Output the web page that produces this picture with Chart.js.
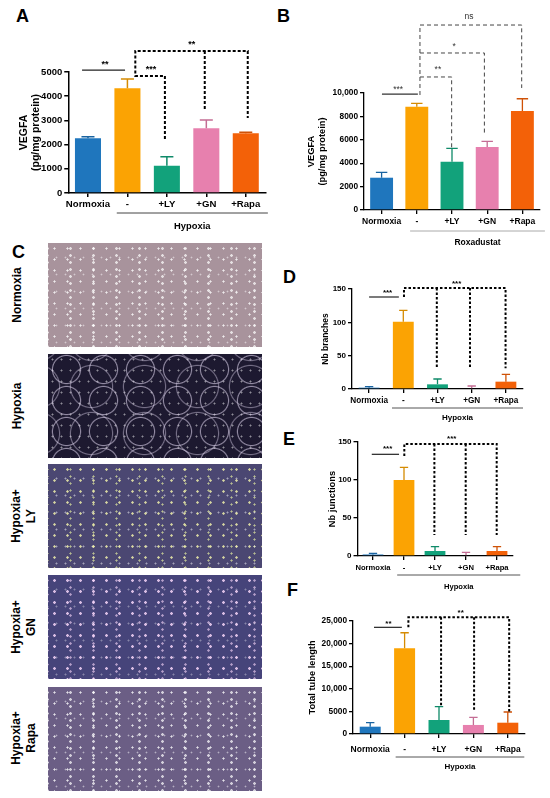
<!DOCTYPE html>
<html>
<head>
<meta charset="utf-8">
<script src="https://cdn.jsdelivr.net/npm/chart.js@4.4.1/dist/chart.umd.min.js"></script>
<style>
  body { margin: 0; background: #fff; font-family: "Liberation Sans", Arial, sans-serif; }
  #fig { position: relative; width: 550px; height: 798px; overflow: hidden; }
  .letter { position: absolute; font-weight: bold; font-size: 18px; line-height: 1; }
  canvas { position: absolute; }
  .photo { position: absolute; left: 48px; width: 214px; height: 104px;
    background-image:
      radial-gradient(circle, rgba(255,255,255,.8) 0 0.8px, transparent 1.4px),
      radial-gradient(circle, rgba(255,255,255,.5) 0 0.6px, transparent 1.2px),
      radial-gradient(circle, rgba(255,255,255,.7) 0 1px, transparent 1.6px);
    background-size: 13px 11px, 9px 17px, 23px 7px;
    background-position: 0 0, 4px 6px, 11px 2px; }
  .rowlab { position: absolute; width: 110px; height: 34px; font-weight: bold; font-size: 12px;
    line-height: 15px; text-align: center; transform: rotate(-90deg);
    display: flex; align-items: center; justify-content: center; }
</style>
</head>
<body>
<div id="fig">
  <div class="letter" style="left:16px;top:7px">A</div>
  <div class="letter" style="left:277px;top:7px">B</div>
  <div class="letter" style="left:12px;top:243px">C</div>
  <div class="letter" style="left:283px;top:268px">D</div>
  <div class="letter" style="left:283px;top:430px">E</div>
  <div class="letter" style="left:287px;top:581px">F</div>

  <div class="photo" style="top:243px;background-color:#a8939c"></div>
  <div class="photo" style="top:354px;background-color:#1d1930;
    background-image: radial-gradient(circle, transparent 0 13px, rgba(225,215,240,.6) 14px, transparent 15.2px),
      radial-gradient(circle, transparent 0 20px, rgba(225,215,240,.45) 21px, transparent 22.2px),
      radial-gradient(circle, rgba(255,255,255,.5) 0 0.7px, transparent 1.3px);
    background-size: 37px 31px, 53px 47px, 9px 11px;
    background-position: 0 0, 17px 9px, 0 0;"></div>
  <div class="photo" style="top:464px;background-color:#4b4772;
    background-image: radial-gradient(circle, rgba(240,240,170,.85) 0 0.9px, transparent 1.5px),
      radial-gradient(circle, rgba(255,255,255,.5) 0 0.7px, transparent 1.3px),
      radial-gradient(circle, rgba(230,240,160,.7) 0 0.8px, transparent 1.4px);"></div>
  <div class="photo" style="top:575px;background-color:#46447a;
    background-image: radial-gradient(circle, rgba(255,220,255,.8) 0 1px, transparent 1.6px),
      radial-gradient(circle, rgba(255,255,255,.35) 0 0.7px, transparent 1.3px),
      radial-gradient(circle, rgba(255,220,255,.6) 0 0.9px, transparent 1.5px);"></div>
  <div class="photo" style="top:687px;background-color:#6b5e85"></div>

  <div class="rowlab" style="left:-38px;top:278px">Normoxia</div>
  <div class="rowlab" style="left:-38px;top:389px">Hypoxia</div>
  <div class="rowlab" style="left:-31px;top:499px">Hypoxia+<br>LY</div>
  <div class="rowlab" style="left:-31px;top:610px">Hypoxia+<br>GN</div>
  <div class="rowlab" style="left:-31px;top:721px">Hypoxia+<br>Rapa</div>
</div>

<script>
// ---- data ----
const categories = ["Normoxia", "-", "+LY", "+GN", "+Rapa"];
const barColors = ["#1f76bd", "#fba303", "#12a27b", "#e780ae", "#f36108"];

// A: VEGFA, hypoxia
const vegfaHypoxia = [2260, 4330, 1130, 2680, 2470];
const vegfaHypoxiaSem = [65, 385, 370, 340, 40];
const vegfaHypoxiaTicks = [0, 1000, 2000, 3000, 4000, 5000];

// B: VEGFA, roxadustat
const vegfaRoxa = [2760, 8830, 4130, 5380, 8460];
const vegfaRoxaSem = [460, 290, 1140, 490, 1050];
const vegfaRoxaTicks = [0, 2000, 4000, 6000, 8000, 10000];

// D, E, F: tube formation
const branches = [2, 101, 7, 1, 11];
const branchesSem = [1.5, 17, 8, 3.5, 11];
const junctions = [2, 100, 6.6, 1, 6.6];
const junctionsSem = [1.5, 16.7, 5.7, 3.8, 5.7];
const countTicks = [0, 50, 100, 150];
const tubeLength = [1620, 18950, 3100, 2000, 2500];
const tubeLengthSem = [880, 3450, 2940, 1690, 2370];
const tubeTicks = [0, 5000, 10000, 15000, 20000, 25000];

Chart.defaults.font.family = '"Liberation Sans", Arial, sans-serif';

const fmt = (v) => (v >= 10000 ? v.toLocaleString("en-US") : String(v));

function darker(hex, f) {
    const n = parseInt(hex.slice(1), 16);
    const r = Math.round(((n >> 16) & 255) * f);
    const g = Math.round(((n >> 8) & 255) * f);
    const b = Math.round((n & 255) * f);
    return `rgb(${r},${g},${b})`;
}

// upper error bars, Prism style
const errorBars = {
    id: "errorBars",
    afterDatasetsDraw(chart, args, opts) {
        const { ctx } = chart;
        const y = chart.scales.y;
        const ds = chart.data.datasets[0];
        chart.getDatasetMeta(0).data.forEach((bar, i) => {
            const top = y.getPixelForValue(ds.data[i] + opts.sem[i]);
            const half = bar.width * opts.cap / 2;
            ctx.save();
            ctx.strokeStyle = darker(barColors[i], 0.85);
            ctx.lineWidth = opts.width;
            ctx.beginPath();
            ctx.moveTo(bar.x, bar.y);
            ctx.lineTo(bar.x, top);
            ctx.moveTo(bar.x - half, top);
            ctx.lineTo(bar.x + half, top);
            ctx.stroke();
            ctx.restore();
        });
    },
};

// significance brackets, stars and the group line under the axis
const sigMarks = {
    id: "sigMarks",
    afterDraw(chart, args, opts) {
        const { ctx } = chart;
        const x = chart.scales.x;
        const y = chart.scales.y;
        const px = (p) => [x.getPixelForValue(p[0]), y.getPixelForValue(p[1])];
        ctx.save();
        opts.lines.forEach((ln) => {
            ctx.strokeStyle = ln.color;
            ctx.lineWidth = ln.width;
            ctx.setLineDash(ln.dash || []);
            ctx.beginPath();
            ln.pts.forEach((p, k) => {
                const [a, b] = px(p);
                k ? ctx.lineTo(a, b) : ctx.moveTo(a, b);
            });
            ctx.stroke();
        });
        ctx.setLineDash([]);
        ctx.textAlign = "center";
        ctx.textBaseline = "middle";
        opts.stars.forEach((s) => {
            const [a, b] = px(s.at);
            ctx.font = `${opts.starWeight} ${opts.starSize}px "Liberation Sans", Arial`;
            ctx.fillStyle = opts.starColor;
            const shift = s.text.includes("*") ? opts.starSize * 0.25 : 0;
            ctx.fillText(s.text, a, b + shift);
        });
        // group line + label
        const g = opts.group;
        const base = y.getPixelForValue(0);
        const x1 = x.getPixelForValue(g.from);
        const x2 = x.getPixelForValue(g.to);
        ctx.strokeStyle = g.color;
        ctx.lineWidth = 1;
        ctx.beginPath();
        ctx.moveTo(x1, base + g.lineOffset);
        ctx.lineTo(x2, base + g.lineOffset);
        ctx.stroke();
        ctx.fillStyle = "#000";
        ctx.font = `bold ${g.size}px "Liberation Sans", Arial`;
        ctx.fillText(g.text, (x1 + x2) / 2, base + g.textOffset);
        ctx.restore();
    },
};

const fig = document.getElementById("fig");

function build(p) {
    const [bx, by, bw, bh] = p.box;
    const canvas = document.createElement("canvas");
    canvas.width = bw;
    canvas.height = bh;
    canvas.style.left = bx + "px";
    canvas.style.top = by + "px";
    canvas.style.width = bw + "px";
    canvas.style.height = bh + "px";
    fig.appendChild(canvas);

    const lh = p.titleSize * 1.2;
    const padLeft = p.titleX - bx - lh / 2;
    const axisColor = "#000";

    new Chart(canvas, {
        type: "bar",
        data: {
            labels: categories,
            datasets: [{
                data: p.values,
                backgroundColor: barColors,
                barPercentage: p.barPct,
                categoryPercentage: 1,
                borderWidth: 0,
            }],
        },
        options: {
            responsive: false,
            animation: false,
            layout: { padding: { left: padLeft, top: p.plot.top - by, right: bx + bw - p.plot.right, bottom: 0 } },
            plugins: {
                legend: { display: false },
                tooltip: { enabled: false },
                errorBars: { sem: p.sem, cap: p.cap, width: p.errWidth },
                sigMarks: p.marks,
            },
            scales: {
                x: {
                    grid: { offset: false, drawOnChartArea: false, tickLength: 4, color: axisColor, lineWidth: p.axisWidth },
                    border: { color: axisColor, width: p.axisWidth },
                    ticks: { color: "#000", font: { size: p.xFont, weight: "bold" }, padding: p.xPad, maxRotation: 0, autoSkip: false },
                    afterFit: (s) => { s.height = by + bh - p.plot.bottom; },
                },
                y: {
                    min: 0,
                    max: p.ticks[p.ticks.length - 1],
                    afterBuildTicks: (s) => { s.ticks = p.ticks.map((v) => ({ value: v })); },
                    grid: { drawOnChartArea: false, tickLength: 4, color: axisColor, lineWidth: p.axisWidth },
                    border: { color: axisColor, width: p.axisWidth },
                    ticks: { color: "#000", font: { size: p.yFont, weight: "bold" }, padding: 2, callback: (v) => fmt(v) },
                    title: { display: true, text: p.title, color: "#000", padding: 0,
                        font: { size: p.titleSize, weight: "bold", lineHeight: 1.2 } },
                    afterFit: (s) => { s.width = p.plot.left - bx - padLeft; },
                },
            },
        },
        plugins: [errorBars, sigMarks],
    });
}

const dotted = { color: "#000", width: 2, dash: [2.5, 2] };
const thin = { color: "#222", width: 1.2 };

build({
    box: [0, 0, 275, 240],
    plot: { left: 68.25, right: 265.5, top: 72, bottom: 193 },
    values: vegfaHypoxia, sem: vegfaHypoxiaSem, ticks: vegfaHypoxiaTicks,
    title: ["VEGFA", "(pg/mg protein)"], titleSize: 10.5, titleX: 24,
    barPct: 0.66, cap: 0.5, errWidth: 1.5, axisWidth: 1.5,
    xFont: 9.6, yFont: 9.5, xPad: 2,
    marks: {
        starSize: 9, starWeight: "bold", starColor: "#000",
        lines: [
            { ...thin, pts: [[-0.15, 5080], [0.94, 5080]] },
            { ...dotted, dash: [3, 2], pts: [[1.95, 2230], [1.95, 4835], [1.2, 4835], [1.2, 5868], [4.05, 5868], [4.05, 3100]] },
            { ...dotted, dash: [3, 2], pts: [[2.96, 5868], [2.96, 3430]] },
        ],
        stars: [
            { at: [0.43, 5414], text: "**" },
            { at: [1.6, 5207], text: "***" },
            { at: [2.63, 6240], text: "**" },
        ],
        group: { text: "Hypoxia", from: 0.73, to: 4.56, lineOffset: 20, textOffset: 33, size: 9.4, color: "#444" },
    },
});

build({
    box: [275, 0, 275, 250],
    plot: { left: 364, right: 540, top: 93, bottom: 210 },
    values: vegfaRoxa, sem: vegfaRoxaSem, ticks: vegfaRoxaTicks,
    title: ["VEGFA", "(pg/mg protein)"], titleSize: 9.3, titleX: 311,
    barPct: 0.65, cap: 0.5, errWidth: 1.3, axisWidth: 1.3,
    xFont: 8.5, yFont: 8.3, xPad: 3,
    marks: {
        starSize: 8.5, starWeight: "normal", starColor: "#333",
        lines: [
            { color: "#333", width: 1.2, pts: [[0.01, 9900], [1.03, 9900]] },
            { color: "#444", width: 1, dash: [4, 3], pts: [[1.09, 9830], [1.09, 15810], [3.98, 15810], [3.98, 10430]] },
            { color: "#444", width: 1, dash: [4, 3], pts: [[1.09, 13420], [2.92, 13420], [2.92, 6580]] },
            { color: "#444", width: 1, dash: [4, 3], pts: [[1.09, 11370], [1.99, 11370], [1.99, 5300]] },
        ],
        stars: [
            { at: [0.47, 10430], text: "***" },
            { at: [1.6, 12140], text: "**" },
            { at: [2.06, 14100], text: "*" },
            { at: [2.48, 16520], text: "ns" },
        ],
        group: { text: "Roxadustat", from: 0.81, to: 4.64, lineOffset: 21, textOffset: 33, size: 8.5, color: "#aaa" },
    },
});

build({
    box: [275, 262, 275, 168],
    plot: { left: 352, right: 523, top: 289, bottom: 389 },
    values: branches, sem: branchesSem, ticks: countTicks,
    title: "Nb branches", titleSize: 8.5, titleX: 326,
    barPct: 0.61, cap: 0.4, errWidth: 1.3, axisWidth: 1.3,
    xFont: 8.2, yFont: 8, xPad: 3,
    marks: {
        starSize: 8, starWeight: "bold", starColor: "#000",
        lines: [
            { ...thin, pts: [[0.0, 138], [0.87, 138]] },
            { ...dotted, pts: [[1.02, 138], [1.02, 151.5], [3.99, 151.5], [3.99, 31]] },
            { ...dotted, pts: [[1.98, 151.5], [1.98, 31]] },
            { ...dotted, pts: [[2.95, 151.5], [2.95, 31]] },
        ],
        stars: [
            { at: [0.54, 147.5], text: "***" },
            { at: [2.56, 161], text: "***" },
        ],
        group: { text: "Hypoxia", from: 0.67, to: 4.5, lineOffset: 19, textOffset: 29, size: 8, color: "#555" },
    },
});

build({
    box: [275, 430, 275, 165],
    plot: { left: 357.5, right: 512.5, top: 442, bottom: 556 },
    values: junctions, sem: junctionsSem, ticks: countTicks,
    title: "Nb junctions", titleSize: 9.3, titleX: 332,
    barPct: 0.67, cap: 0.4, errWidth: 1.3, axisWidth: 1.3,
    xFont: 7.6, yFont: 8, xPad: 3,
    marks: {
        starSize: 8, starWeight: "bold", starColor: "#000",
        lines: [
            { ...thin, pts: [[-0.04, 133.8], [0.84, 133.8]] },
            { ...dotted, pts: [[1.01, 131.6], [1.01, 147.4], [3.99, 147.4], [3.99, 27.6]] },
            { ...dotted, pts: [[1.98, 147.4], [1.98, 27.6]] },
            { ...dotted, pts: [[2.99, 147.4], [2.99, 27.6]] },
        ],
        stars: [
            { at: [0.47, 143.8], text: "***" },
            { at: [2.54, 157], text: "***" },
        ],
        group: { text: "Hypoxia", from: 0.78, to: 4.75, lineOffset: 19, textOffset: 31, size: 7.6, color: "#555" },
    },
});

build({
    box: [275, 598, 275, 180],
    plot: { left: 353, right: 525, top: 621, bottom: 734 },
    values: tubeLength, sem: tubeLengthSem, ticks: tubeTicks,
    title: "Total tube length", titleSize: 9.3, titleX: 312,
    barPct: 0.61, cap: 0.4, errWidth: 1.3, axisWidth: 1.3,
    xFont: 8.5, yFont: 8.3, xPad: 7,
    marks: {
        starSize: 8, starWeight: "bold", starColor: "#000",
        lines: [
            { ...thin, pts: [[0.11, 23600], [0.92, 23600]] },
            { ...dotted, pts: [[1.11, 23600], [1.11, 25810], [4.04, 25810], [4.04, 5000]] },
            { ...dotted, pts: [[2.06, 25810], [2.06, 6100]] },
            { ...dotted, pts: [[3.02, 25810], [3.02, 5000]] },
        ],
        stars: [
            { at: [0.53, 24840], text: "**" },
            { at: [2.63, 27200], text: "**" },
        ],
        group: { text: "Hypoxia", from: 0.74, to: 4.48, lineOffset: 23, textOffset: 33, size: 8, color: "#555" },
    },
});
</script>
</body>
</html>
